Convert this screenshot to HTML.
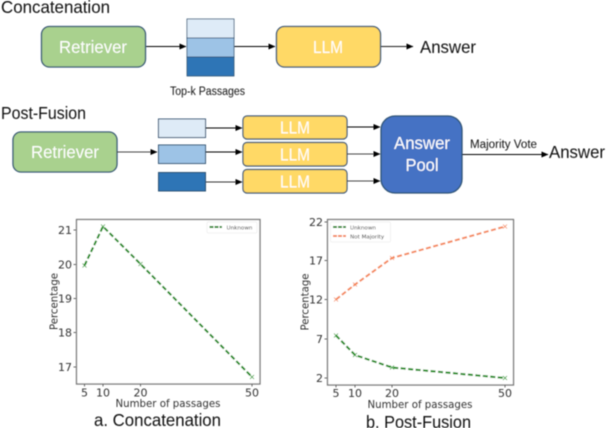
<!DOCTYPE html>
<html><head><meta charset="utf-8"><style>
html,body{margin:0;padding:0;background:#fff;width:606px;height:428px;overflow:hidden}
svg{display:block}
text{font-family:"Liberation Sans",sans-serif;fill:#111}
.w{fill:#fff}
.dj{font-family:"DejaVu Sans",sans-serif;fill:#333}
</style></head><body>
<svg width="606" height="428" viewBox="0 0 606 428" xmlns="http://www.w3.org/2000/svg">
<defs>
<marker id="a" markerWidth="7" markerHeight="6" refX="6.5" refY="3" orient="auto" markerUnits="userSpaceOnUse"><path d="M0 0L7 3L0 6z" fill="#000"/></marker>
<filter id="b" x="-5%" y="-5%" width="110%" height="110%"><feGaussianBlur stdDeviation="0.45"/></filter>
</defs>
<g filter="url(#b)">
<text x="1" y="13" font-size="17.500" textLength="109" lengthAdjust="spacingAndGlyphs">Concatenation</text>
<rect x="41.500" y="26.500" width="104" height="40.500" rx="8" fill="#a9d18e" stroke="#2f5272" stroke-width="1.300"/>
<text class="w" x="93" y="53" font-size="17.500" text-anchor="middle" textLength="68" lengthAdjust="spacingAndGlyphs">Retriever</text>
<rect x="187" y="19" width="47" height="19" fill="#deebf7" stroke="#2f5272" stroke-width="0.800"/>
<rect x="187" y="38" width="47" height="19" fill="#9dc3e6" stroke="#2f5272" stroke-width="0.800"/>
<rect x="187" y="57" width="47" height="19" fill="#2e75b6" stroke="#2f5272" stroke-width="0.800"/>
<line x1="146" y1="46.500" x2="186" y2="46.500" stroke="#000" marker-end="url(#a)"/>
<line x1="234" y1="46.500" x2="275" y2="46.500" stroke="#000" marker-end="url(#a)"/>
<rect x="276.500" y="26.500" width="104" height="40.500" rx="8" fill="#ffd966" stroke="#2f5272" stroke-width="1.300"/>
<text class="w" x="328" y="53" font-size="17.500" text-anchor="middle" textLength="30" lengthAdjust="spacingAndGlyphs">LLM</text>
<line x1="381" y1="46.500" x2="413" y2="46.500" stroke="#222" marker-end="url(#a)"/>
<text x="420" y="53" font-size="17.500" textLength="56" lengthAdjust="spacingAndGlyphs">Answer</text>
<text x="170" y="95" font-size="11.500" textLength="75" lengthAdjust="spacingAndGlyphs">Top-k Passages</text>

<text x="1" y="119" font-size="17.500" textLength="85" lengthAdjust="spacingAndGlyphs">Post-Fusion</text>
<rect x="13" y="132" width="104" height="40" rx="8" fill="#a9d18e" stroke="#2f5272" stroke-width="1.300"/>
<text class="w" x="65" y="158" font-size="17.500" text-anchor="middle" textLength="68" lengthAdjust="spacingAndGlyphs">Retriever</text>
<line x1="117" y1="152" x2="157" y2="152" stroke="#444" marker-end="url(#a)"/>
<rect x="158.500" y="119" width="47" height="18.500" fill="#deebf7" stroke="#2f5272" stroke-width="1"/>
<rect x="158.500" y="145" width="47" height="18.500" fill="#9dc3e6" stroke="#2f5272" stroke-width="1"/>
<rect x="158.500" y="172.500" width="47" height="18.500" fill="#2e75b6" stroke="#2f5272" stroke-width="1"/>
<line x1="205" y1="128" x2="242" y2="128" stroke="#000" marker-end="url(#a)"/>
<line x1="205" y1="152" x2="242" y2="152" stroke="#000" marker-end="url(#a)"/>
<line x1="206" y1="182" x2="242" y2="182" stroke="#333" marker-end="url(#a)"/>
<rect x="243" y="116" width="104" height="23" rx="4" fill="#ffd966" stroke="#2f5272" stroke-width="1.200"/>
<rect x="243" y="142.500" width="104" height="23.500" rx="4" fill="#ffd966" stroke="#2f5272" stroke-width="1.200"/>
<rect x="243" y="169.500" width="104" height="23.500" rx="4" fill="#ffd966" stroke="#2f5272" stroke-width="1.200"/>
<text class="w" x="295" y="133.500" font-size="17.500" text-anchor="middle" textLength="30" lengthAdjust="spacingAndGlyphs">LLM</text>
<text class="w" x="295" y="160.500" font-size="17.500" text-anchor="middle" textLength="30" lengthAdjust="spacingAndGlyphs">LLM</text>
<text class="w" x="295" y="187.500" font-size="17.500" text-anchor="middle" textLength="30" lengthAdjust="spacingAndGlyphs">LLM</text>
<line x1="347" y1="127" x2="380" y2="127" stroke="#000" marker-end="url(#a)"/>
<line x1="347" y1="154" x2="380" y2="154" stroke="#444" marker-end="url(#a)"/>
<line x1="347" y1="181" x2="380" y2="181" stroke="#444" marker-end="url(#a)"/>
<rect x="381" y="116" width="81" height="77" rx="14" fill="#4472c4" stroke="#2f5272" stroke-width="1.300"/>
<text class="w" x="422" y="149" font-size="17.500" text-anchor="middle" textLength="56" lengthAdjust="spacingAndGlyphs">Answer</text>
<text class="w" x="422" y="171" font-size="17.500" text-anchor="middle" textLength="33" lengthAdjust="spacingAndGlyphs">Pool</text>
<text x="470" y="148" font-size="11.500" textLength="67" lengthAdjust="spacingAndGlyphs">Majority Vote</text>
<line x1="462" y1="154.500" x2="548" y2="154.500" stroke="#000" marker-end="url(#a)"/>
<text x="549" y="158" font-size="17.500" textLength="56" lengthAdjust="spacingAndGlyphs">Answer</text>

<!-- chart a -->
<rect x="76.500" y="219.500" width="183.500" height="164.500" fill="#fff" stroke="#777" stroke-width="1.300"/>
<g stroke="#444" stroke-width="0.800">
<line x1="73.500" y1="230" x2="76" y2="230"/><line x1="73.500" y1="264.500" x2="76" y2="264.500"/><line x1="73.500" y1="298.500" x2="76" y2="298.500"/><line x1="73.500" y1="332.500" x2="76" y2="332.500"/><line x1="73.500" y1="367" x2="76" y2="367"/>
<line x1="84.500" y1="384" x2="84.500" y2="386.500"/><line x1="103" y1="384" x2="103" y2="386.500"/><line x1="140.500" y1="384" x2="140.500" y2="386.500"/><line x1="252" y1="384" x2="252" y2="386.500"/>
</g>
<g font-size="11" text-anchor="end">
<text class="dj" x="72" y="234">21</text><text class="dj" x="72" y="268.500">20</text><text class="dj" x="72" y="302.500">19</text><text class="dj" x="72" y="336.500">18</text><text class="dj" x="72" y="371">17</text>
</g>
<g font-size="11" text-anchor="middle">
<text class="dj" x="84.500" y="396.500">5</text><text class="dj" x="103" y="396.500">10</text><text class="dj" x="140.500" y="396.500">20</text><text class="dj" x="252" y="396.500">50</text>
</g>
<text class="dj" x="168" y="407" font-size="11" text-anchor="middle" textLength="105" lengthAdjust="spacingAndGlyphs">Number of passages</text>
<text class="dj" transform="translate(57.500,301.500) rotate(-90)" font-size="11" text-anchor="middle" textLength="57" lengthAdjust="spacingAndGlyphs">Percentage</text>
<polyline points="84.500,265.500 103,226.500 140.500,264 252,377" fill="none" stroke="#0e8a0e" stroke-width="2" stroke-dasharray="5 2.500"/>
<path d="M82.500 263.500l4 4m0-4l-4 4M101 224.500l4 4m0-4l-4 4M138.500 262l4 4m0-4l-4 4M250 375l4 4m0-4l-4 4" fill="none" stroke="#2a9a2a" stroke-width="0.800"/>
<rect x="207" y="222" width="50" height="11" rx="1" fill="#fff" stroke="#e4e4e4" stroke-width="0.500"/>
<line x1="209.500" y1="227" x2="222" y2="227" stroke="#0e8a0e" stroke-width="2" stroke-dasharray="4 1"/>
<text class="dj" x="226.500" y="229.500" font-size="5.600">Unknown</text>
<text x="94" y="426" font-size="17.500" textLength="127" lengthAdjust="spacingAndGlyphs">a. Concatenation</text>

<!-- chart b -->
<rect x="327.500" y="219.500" width="186" height="165.500" fill="#fff" stroke="#777" stroke-width="1.300"/>
<g stroke="#444" stroke-width="0.800">
<line x1="324.500" y1="222" x2="327" y2="222"/><line x1="324.500" y1="260.500" x2="327" y2="260.500"/><line x1="324.500" y1="299.500" x2="327" y2="299.500"/><line x1="324.500" y1="339" x2="327" y2="339"/><line x1="324.500" y1="378" x2="327" y2="378"/>
<line x1="336" y1="385" x2="336" y2="387.500"/><line x1="355" y1="385" x2="355" y2="387.500"/><line x1="392" y1="385" x2="392" y2="387.500"/><line x1="505" y1="385" x2="505" y2="387.500"/>
</g>
<g font-size="11" text-anchor="end">
<text class="dj" x="323" y="226">22</text><text class="dj" x="323" y="264.500">17</text><text class="dj" x="323" y="303.500">12</text><text class="dj" x="323" y="343">7</text><text class="dj" x="323" y="382">2</text>
</g>
<g font-size="11" text-anchor="middle">
<text class="dj" x="336" y="397">5</text><text class="dj" x="355" y="397">10</text><text class="dj" x="392" y="397">20</text><text class="dj" x="505" y="397">50</text>
</g>
<text class="dj" x="420" y="408" font-size="11" text-anchor="middle" textLength="105" lengthAdjust="spacingAndGlyphs">Number of passages</text>
<text class="dj" transform="translate(308.500,302) rotate(-90)" font-size="11" text-anchor="middle" textLength="57" lengthAdjust="spacingAndGlyphs">Percentage</text>
<polyline points="336,299.500 355,284.500 392,258 505,226.500" fill="none" stroke="#f4885a" stroke-width="2" stroke-dasharray="5 2.500"/>
<polyline points="336,335.500 355,355 392,367.500 505,378" fill="none" stroke="#0e8a0e" stroke-width="2" stroke-dasharray="5 2.500"/>
<path d="M334 297.500l4 4m0-4l-4 4M353 282.500l4 4m0-4l-4 4M390 256l4 4m0-4l-4 4M503 224.500l4 4m0-4l-4 4" fill="none" stroke="#f4885a" stroke-width="0.800"/>
<path d="M334 333.500l4 4m0-4l-4 4M353 353l4 4m0-4l-4 4M390 365.500l4 4m0-4l-4 4M503 376l4 4m0-4l-4 4" fill="none" stroke="#2a9a2a" stroke-width="0.800"/>
<rect x="330.500" y="222" width="60" height="20" rx="1" fill="#fff" stroke="#e4e4e4" stroke-width="0.500"/>
<line x1="333" y1="227" x2="346" y2="227" stroke="#0e8a0e" stroke-width="2" stroke-dasharray="4 1"/>
<line x1="333" y1="236" x2="346" y2="236" stroke="#f4885a" stroke-width="2" stroke-dasharray="4 1"/>
<text class="dj" x="350" y="229.500" font-size="5.600">Unknown</text>
<text class="dj" x="350" y="238.500" font-size="5.600">Not Majority</text>
<text x="366" y="428" font-size="17.500" textLength="105" lengthAdjust="spacingAndGlyphs">b. Post-Fusion</text>
</g>
</svg>
</body></html>
